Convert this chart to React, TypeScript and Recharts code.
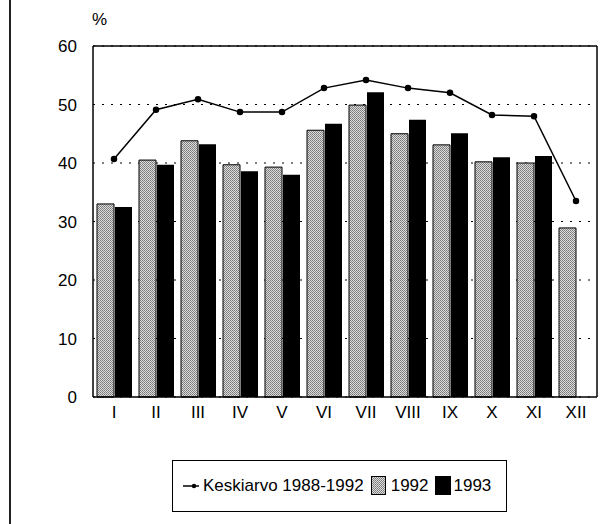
import {
  ComposedChart,
  Bar,
  Line,
  XAxis,
  YAxis,
  CartesianGrid,
} from "recharts";

const months = ["I", "II", "III", "IV", "V", "VI", "VII", "VIII", "IX", "X", "XI", "XII"];
const avg8892 = [40.7, 49.1, 50.9, 48.7, 48.7, 52.8, 54.2, 52.8, 52.0, 48.2, 48.0, 33.5];
const y1992 = [33.0, 40.5, 43.8, 39.7, 39.3, 45.6, 49.9, 45.0, 43.1, 40.2, 40.0, 28.9];
const y1993 = [32.5, 39.7, 43.2, 38.6, 38.0, 46.7, 52.1, 47.4, 45.1, 41.0, 41.2, null];
const yTicks = [0, 10, 20, 30, 40, 50, 60];

const data = months.map((m, i) => ({
  month: m,
  avg: avg8892[i],
  a: y1992[i],
  b: y1993[i],
}));

const font = "'Liberation Sans', Arial, sans-serif";

const LegendBox = () => (
  <div
    style={{
      position: "absolute",
      left: 172,
      top: 460,
      border: "1.5px solid #000",
      width: 335,
      height: 52,
      boxSizing: "border-box",
      display: "flex",
      alignItems: "center",
      fontFamily: font,
      fontSize: 17,
      color: "#000",
      paddingLeft: 10,
      whiteSpace: "nowrap",
    }}
  >
    <svg width={16} height={10} style={{ marginRight: 4 }}>
      <line x1={0} y1={5} x2={16} y2={5} stroke="#000" strokeWidth={1.5} />
      <circle cx={11} cy={5} r={2.2} fill="#000" />
    </svg>
    <span>Keskiarvo 1988-1992</span>
    <svg width={16} height={20} style={{ marginLeft: 7, marginRight: 4 }}>
      <rect x={0.5} y={0.5} width={14} height={18} fill="url(#dots)" stroke="#000" />
    </svg>
    <span>1992</span>
    <svg width={17} height={20} style={{ marginLeft: 6, marginRight: 2 }}>
      <rect x={0} y={0} width={16} height={19} fill="#000" />
    </svg>
    <span>1993</span>
  </div>
);

export default function App() {
  return (
    <div style={{ position: "absolute", left: 0, top: 0, width: 609, height: 524, background: "#fff" }}>
      <div style={{ position: "absolute", left: 9, top: 0, width: 0, height: 524, borderLeft: "2px solid #222" }} />
      <div style={{ position: "absolute", left: 92, top: 10, fontFamily: font, fontSize: 17 }}>%</div>
      <ComposedChart
        width={609}
        height={524}
        data={data}
        margin={{ top: 45, right: 11, bottom: 97, left: 0 }}
        barSize={17}
        barGap={1}
      >
        <defs>
          <pattern id="dots" width={2} height={2} patternUnits="userSpaceOnUse">
            <rect width={2} height={2} fill="#dcdcdc" />
            <rect x={0} y={0} width={1} height={1} fill="#777" />
            <rect x={1} y={1} width={1} height={1} fill="#8a8a8a" />
          </pattern>
        </defs>
        <CartesianGrid vertical={false} stroke="#000" strokeDasharray="2 7" />
        <XAxis
          dataKey="month"
          height={30}
          tickLine={false}
          axisLine={{ stroke: "#000", strokeWidth: 1.5 }}
          tick={{ fill: "#000", fontFamily: font, fontSize: 17 }}
          tickMargin={3}
        />
        <XAxis
          xAxisId="top"
          orientation="top"
          dataKey="month"
          height={1}
          tick={false}
          tickLine={false}
          axisLine={{ stroke: "#000", strokeWidth: 1.5 }}
        />
        <YAxis
          width={93}
          domain={[0, 60]}
          ticks={yTicks}
          tickLine={false}
          axisLine={{ stroke: "#000", strokeWidth: 1.5 }}
          tick={{ fill: "#000", fontFamily: font, fontSize: 17 }}
          tickMargin={10}
        />
        <YAxis
          yAxisId="right"
          orientation="right"
          width={1}
          domain={[0, 60]}
          ticks={yTicks}
          tick={false}
          tickLine={false}
          axisLine={{ stroke: "#000", strokeWidth: 1.5 }}
        />
        <Bar dataKey="a" fill="url(#dots)" stroke="#000" strokeWidth={1} isAnimationActive={false} />
        <Bar dataKey="b" fill="#000" isAnimationActive={false} />
        <Line
          dataKey="avg"
          xAxisId="top"
          yAxisId="right"
          stroke="#000"
          strokeWidth={1.5}
          dot={{ r: 2.5, fill: "#000", stroke: "#000" }}
          activeDot={false}
          isAnimationActive={false}
        />
      </ComposedChart>
      <LegendBox />
    </div>
  );
}
